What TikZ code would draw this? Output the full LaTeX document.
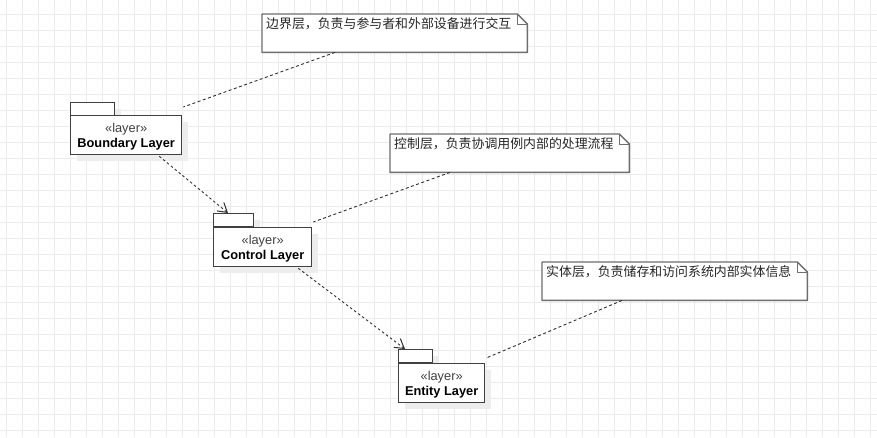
\documentclass[tikz,border=0pt]{standalone}
\usepackage{fontspec}
\setmainfont{Liberation Sans}
\newfontfamily\cjk{Noto Sans CJK SC}
\usetikzlibrary{calc,arrows.meta,shadows}
\definecolor{gridc}{HTML}{EBEBEB}
\definecolor{pkgc}{HTML}{404040}
\definecolor{notec}{HTML}{6E6E6E}
\definecolor{linec}{HTML}{303030}
\definecolor{shc}{HTML}{EDEDED}
\tikzset{
  pkgshadow/.style={drop shadow={shadow xshift=6pt,shadow yshift=-6pt,fill=shc,opacity=1}},
  pkgtab/.style={draw=pkgc,fill=white,line width=1.3pt,minimum height=13pt,inner sep=0pt,anchor=north west,pkgshadow},
  pkgbody/.style={draw=pkgc,fill=white,line width=1.3pt,minimum height=39pt,inner sep=0pt,anchor=north west,pkgshadow},
  pkglabel/.style={anchor=north,inner sep=0pt,align=center,font=\fontsize{12.8}{15}\selectfont},
  notebox/.style={draw=none,inner sep=0pt,minimum height=38pt,anchor=north west},
  notetext/.style={anchor=west,inner sep=0pt,font=\cjk\fontsize{12.9}{14}\selectfont,text=black!85},
  noteline/.style={draw=notec,line width=1.4pt,line join=round},
  anchorline/.style={draw=linec,line width=0.9pt,dash pattern=on 3pt off 2.5pt},
  depline/.style={draw=linec,line width=0.9pt,dash pattern=on 2.5pt off 2.5pt,-{Straight Barb[length=9pt,width=11pt,line width=1pt]}}
}
\newcommand{\stereo}[1]{{\color{black!75}«layer»}\\\textbf{#1}}
\begin{document}
\begin{tikzpicture}[x=1pt,y=-1pt]
\useasboundingbox (0,0) rectangle (877,437);
\fill[white] (0,0) rectangle (877,437);
% grid
\foreach \gx in {6,22,...,870} \draw[gridc,line width=1pt] (\gx,0) -- (\gx,437);
\foreach \gy in {14,30,...,430} \draw[gridc,line width=1pt] (0,\gy) -- (877,\gy);

% packages
\node[pkgtab,minimum width=44pt] (bndtab) at (70,102) {};
\node[pkgbody,minimum width=111pt] (bnd) at (70,115) {};
\node[pkglabel] (bndl) at ($(bnd.north)+(0,8)$) {\stereo{Boundary Layer}};
\node[pkgtab,minimum width=40pt] (ctltab) at (213,213) {};
\node[pkgbody,minimum width=98pt] (ctl) at (213,227) {};
\node[pkglabel] (ctll) at ($(ctl.north)+(0,8)$) {\stereo{Control Layer}};
\node[pkgtab,minimum width=34pt] (enttab) at (398,349) {};
\node[pkgbody,minimum width=86pt] (ent) at (398,363) {};
\node[pkglabel] (entl) at ($(ent.north)+(0,8)$) {\stereo{Entity Layer}};

% notes
\node[notebox,minimum width=265pt] (n1) at (262,14) {};
\node[notebox,minimum width=239pt] (n2) at (390,134) {};
\node[notebox,minimum width=265pt] (n3) at (542,262) {};
\foreach \n in {n1,n2,n3}{
  \fill[white] (\n.north west) -- ($(\n.north east)+(-10,0)$) -- ($(\n.north east)+(0,10)$) -- (\n.south east) -- (\n.south west) -- cycle;
  \path[noteline] (\n.north west) -- ($(\n.north east)+(-10,0)$) -- ($(\n.north east)+(0,10)$) -- (\n.south east) -- (\n.south west) -- cycle;
  \path[noteline,line width=1pt] ($(\n.north east)+(-10,0)$) -- ($(\n.north east)+(-10,10)$) -- ($(\n.north east)+(0,10)$);
}
\node[notetext] (t1) at ($(n1.north west)+(4,10)$) {边界层，负责与参与者和外部设备进行交互};
\node[notetext] (t2) at ($(n2.north west)+(4,10)$) {控制层，负责协调用例内部的处理流程};
\node[notetext] (t3) at ($(n3.north west)+(4,10)$) {实体层，负责储存和访问系统内部实体信息};

% note anchors
\path[anchorline] ($(n1.south west)+(73,0)$) -- ($(bnd.north east)+(1,-8)$);
\path[anchorline] ($(n2.south west)+(60,0)$) -- ($(ctl.north east)+(1,-5)$);
\path[anchorline] ($(n3.south west)+(80,0)$) -- ($(ent.north east)+(1,-5)$);

% dependencies
\path[depline] ($(bnd.south east)+(-23,1)$) -- ($(ctltab.north west)+(15,0)$);
\path[depline] ($(ctl.south east)+(-14,1)$) -- ($(enttab.north west)+(7,0)$);
\end{tikzpicture}
\end{document}
